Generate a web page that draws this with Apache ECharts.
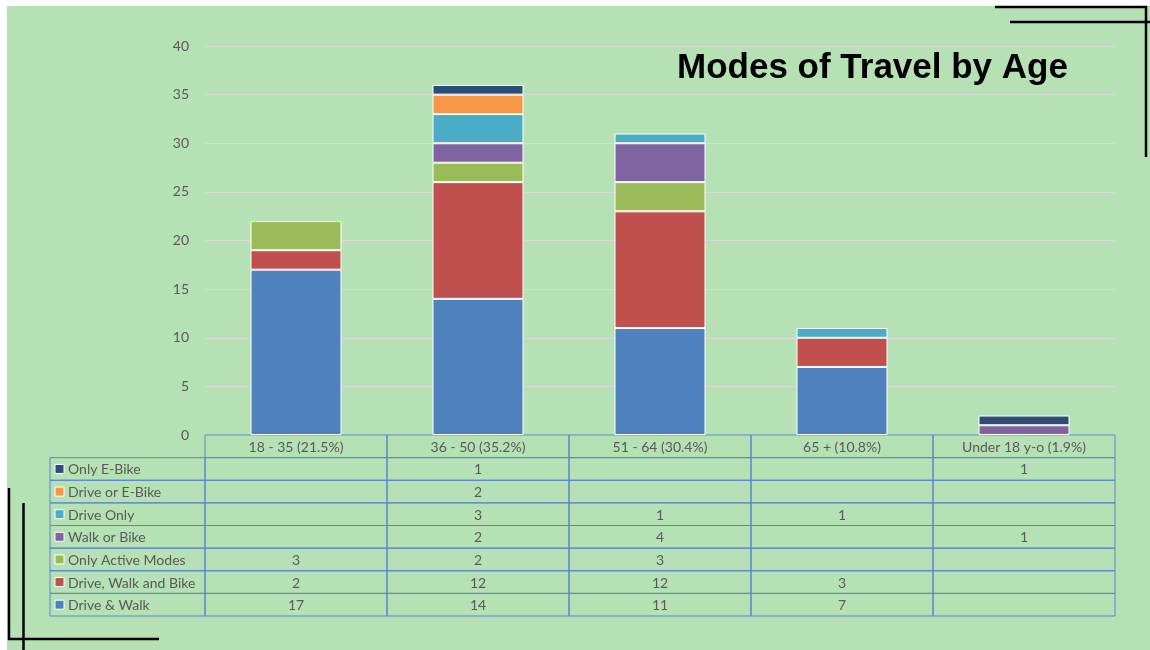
<!DOCTYPE html>
<html>
<head>
<meta charset="utf-8">
<script src="https://cdn.jsdelivr.net/npm/echarts@6/dist/echarts.min.js"></script>
<style>
  html, body { margin: 0; padding: 0; background: #fff; }
  #chart { width: 1150px; height: 650px; }
</style>
</head>
<body>
<div id="chart"></div>
<script>
// categories and values (blank cell = null)
const ageGroups = ['18 - 35 (21.5%)', '36 - 50 (35.2%)', '51 - 64 (30.4%)', '65 + (10.8%)', 'Under 18 y-o (1.9%)']
const seriesNames = ['Drive & Walk', 'Drive, Walk and Bike', 'Only Active Modes', 'Walk or Bike', 'Drive Only', 'Drive or E-Bike', 'Only E-Bike']
const driveWalk = [17, 14, 11, 7, null]
const driveWalkBike = [2, 12, 12, 3, null]
const onlyActive = [3, 2, 3, null, null]
const walkOrBike = [null, 2, 4, null, 1]
const driveOnly = [null, 3, 1, 1, null]
const driveOrEBike = [null, 2, null, null, null]
const onlyEBike = [null, 1, null, null, 1]
const seriesValues = [driveWalk, driveWalkBike, onlyActive, walkOrBike, driveOnly, driveOrEBike, onlyEBike]
const seriesColors = ['#4f81bd', '#c0504d', '#9bbb59', '#8064a2', '#4bacc6', '#f79646', '#2c4d75']
const yMax = 40
const yStep = 5

const textColor = '#595959'
const tableLine = '#5a85cf'
const legendColWidth = 155
const labelFont = '14px Lato, "Noto Sans", sans-serif'

const chart = echarts.init(document.getElementById('chart'))

// table cells: one per (age group, series) plus header row
var cellData = []
seriesValues.forEach(function (vals, row) {
  vals.forEach(function (v, col) {
    cellData.push([col, row, v == null ? '' : String(v)])
  })
})
ageGroups.forEach(function (name, col) {
  cellData.push([col, seriesNames.length, name])
})
var legendData = seriesNames.map(function (n, row) {
  return [0, row, n]
})

function renderCell(params, api) {
  var c = api.coord([api.value(0), api.value(1)])
  var s = api.size([1, 1])
  return {
    type: 'group',
    children: [{
      type: 'rect',
      shape: { x: c[0] - s[0] / 2, y: c[1] - s[1] / 2, width: s[0], height: s[1] },
      style: { fill: 'none', stroke: tableLine, lineWidth: 1 }
    }, {
      type: 'text',
      style: {
        x: c[0], y: c[1] + 1,
        text: cellData[params.dataIndex][2],
        align: 'center', verticalAlign: 'middle',
        font: labelFont, fill: textColor
      }
    }]
  }
}

function renderLegendCell(params, api) {
  var row = api.value(1)
  var c = api.coord([api.value(0), row])
  var s = api.size([1, 1])
  var x0 = c[0] - s[0] / 2 - legendColWidth
  return {
    type: 'group',
    children: [{
      type: 'rect',
      shape: { x: x0, y: c[1] - s[1] / 2, width: legendColWidth, height: s[1] },
      style: { fill: 'none', stroke: tableLine, lineWidth: 1 }
    }, {
      type: 'rect',
      shape: { x: x0 + 5, y: c[1] - 4.5, width: 9, height: 9 },
      style: { fill: seriesColors[row], stroke: '#fff', lineWidth: 1 }
    }, {
      type: 'text',
      style: {
        x: x0 + 18, y: c[1] + 1,
        text: seriesNames[row],
        align: 'left', verticalAlign: 'middle',
        font: labelFont, fill: textColor
      }
    }]
  }
}

var barSeries = seriesNames.map(function (name, i) {
  return {
    name: name,
    type: 'bar',
    stack: 'total',
    barWidth: '50%',
    xAxisIndex: 0,
    yAxisIndex: 0,
    itemStyle: { color: seriesColors[i], borderColor: '#fff', borderWidth: 1 },
    data: seriesValues[i]
  }
})

chart.setOption({
  backgroundColor: '#b6e1b4',
  animation: false,
  title: {
    text: 'Modes of Travel by Age',
    left: 672,
    top: 46,
    textStyle: { fontFamily: '"Liberation Sans", Arial, sans-serif', fontWeight: 'bold', fontSize: 35, color: '#000' }
  },
  grid: [
    { left: 205, right: 35, top: 46, bottom: 215 },
    { left: 205, right: 35, top: 435, bottom: 34 }
  ],
  xAxis: [{
    type: 'category',
    gridIndex: 0,
    data: ageGroups,
    axisLine: { show: false },
    axisTick: { show: false },
    axisLabel: { show: false }
  }, {
    type: 'category',
    gridIndex: 1,
    data: ageGroups,
    show: false
  }],
  yAxis: [{
    type: 'value',
    gridIndex: 0,
    min: 0,
    max: yMax,
    interval: yStep,
    axisLabel: { color: textColor, fontSize: 14, fontFamily: 'Lato, sans-serif', margin: 16 },
    splitLine: { lineStyle: { color: '#d9d9d9', width: 1 } }
  }, {
    type: 'category',
    gridIndex: 1,
    data: seriesNames.concat(['header']),
    show: false
  }],
  series: barSeries.concat([{
    type: 'custom',
    xAxisIndex: 1,
    yAxisIndex: 1,
    renderItem: renderCell,
    data: cellData.map(function (d) { return [d[0], d[1]] }),
    silent: true
  }, {
    type: 'custom',
    xAxisIndex: 1,
    yAxisIndex: 1,
    renderItem: renderLegendCell,
    data: legendData.map(function (d) { return [d[0], d[1]] }),
    silent: true
  }]),
  graphic: [
    { type: 'rect', shape: { x: 0, y: 0, width: 1150, height: 6 }, style: { fill: '#fff' } },
    { type: 'rect', shape: { x: 0, y: 0, width: 7, height: 650 }, style: { fill: '#fff' } },
    { type: 'line', shape: { x1: 995, y1: 7, x2: 1147, y2: 7 }, style: { stroke: '#000', lineWidth: 2.5 } },
    { type: 'line', shape: { x1: 1010, y1: 22, x2: 1150, y2: 22 }, style: { stroke: '#000', lineWidth: 2.5 } },
    { type: 'line', shape: { x1: 1146, y1: 6, x2: 1146, y2: 157 }, style: { stroke: '#000', lineWidth: 2.5 } },
    { type: 'line', shape: { x1: 9, y1: 488, x2: 9, y2: 640 }, style: { stroke: '#000', lineWidth: 2.5 } },
    { type: 'line', shape: { x1: 23.5, y1: 503, x2: 23.5, y2: 650 }, style: { stroke: '#000', lineWidth: 2.5 } },
    { type: 'line', shape: { x1: 8, y1: 639, x2: 159, y2: 639 }, style: { stroke: '#000', lineWidth: 2.5 } }
  ]
})
</script>
</body>
</html>
